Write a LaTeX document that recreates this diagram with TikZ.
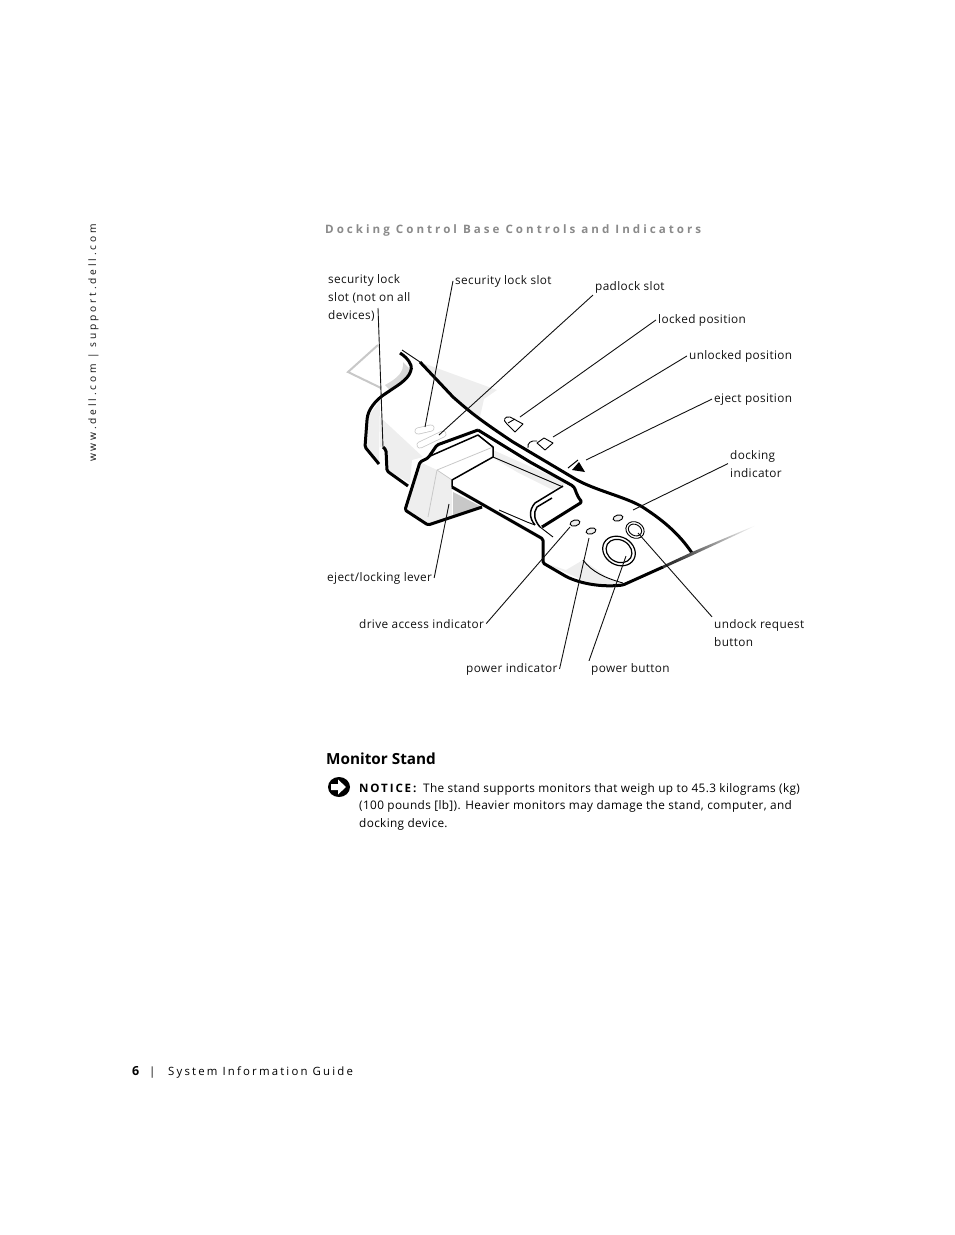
\documentclass[tikz,border=0pt]{standalone}
\usepackage{fontspec}
\usepackage{xcolor}
\setmainfont{Open Sans}
\usetikzlibrary{arrows.meta,positioning,calc}
\definecolor{dockInk}{HTML}{111111}
\definecolor{dockShade}{HTML}{EEEEEE}
\definecolor{dockMid}{HTML}{C8C8C8}
\definecolor{dockHead}{HTML}{8A8A8A}
\newcommand{\bodyfont}{\fontsize{11.8}{18}\selectfont\addfontfeatures{LetterSpace=3}}
\begin{document}
\begin{tikzpicture}[
  x=1pt,y=-1pt,
  lbl/.style={font=\bodyfont,text=dockInk,inner sep=2pt,anchor=base west,align=left},
  lead/.style={draw=dockInk,line width=0.9pt},
  heavy/.style={draw=black,line width=3pt,line join=round,rounded corners=1.5pt},
  medium/.style={draw=black,line width=1.5pt,line join=round},
  thin line/.style={draw=black,line width=0.9pt},
  soft/.style={fill=dockShade,draw=none},
  spaced/.style={inner sep=0pt,anchor=base west}
]
\useasboundingbox (0,0) rectangle (954,1235);
% page text
\node[spaced,rotate=90,font=\fontsize{10.2}{12}\selectfont\addfontfeatures{LetterSpace=28},text=dockInk] (sideText) at (96,462) {www.dell.com | support.dell.com};
\node[spaced,font=\fontsize{11.6}{14}\selectfont\bfseries\addfontfeatures{LetterSpace=26},text=dockHead] (headText) at (325,233) {Docking Control Base Controls and Indicators};
\node[spaced,font=\fontsize{12.5}{14}\selectfont\bfseries] (pageNum) at (132,1075) {6};
\node[spaced,font=\fontsize{11.4}{14}\selectfont] (pageBar) at (149,1075) {|};
\node[spaced,font=\fontsize{11.4}{14}\selectfont\addfontfeatures{LetterSpace=19}] (pageName) at (168,1075) {System Information Guide};
\node[font=\fontsize{15.3}{18}\selectfont\bfseries,inner sep=0pt,anchor=base west] (standHead) at (326,764) {Monitor Stand};
\node[font=\fontsize{11.6}{14}\selectfont\bfseries\addfontfeatures{LetterSpace=16},inner sep=0pt,anchor=base west] (noticeHead) at (359,792) {NOTICE:};
\node[font=\bodyfont,inner sep=0pt,anchor=base west] (noticeA) at (423,792) {The stand supports monitors that weigh up to 45.3 kilograms (kg)};
\node[font=\bodyfont,inner sep=0pt,anchor=base west] (noticeB) at (359,809) {(100 pounds [lb]). Heavier monitors may damage the stand, computer, and};
\node[font=\bodyfont,inner sep=0pt,anchor=base west] (noticeC) at (359,827) {docking device.};
\fill[black] (339,787) ellipse [x radius=11,y radius=10];
\fill[white] (331,784) -- (338,784) -- (338,779.5) -- (346,787) -- (338,794.5) -- (338,790) -- (331,790) -- cycle;
% shaded areas
\fill[soft] (420,362) -- (497,390) -- (484,399) -- (480,417) -- (453,397) -- cycle;
\fill[soft] (380,417) -- (423,457) -- (412,460) -- (410,483) -- (387,470) -- (385,447) -- (380,447) -- cycle;
\fill[soft] (368,417) -- (380,400) -- (379,463) -- (367,447) -- cycle;
\fill[soft] (420,462) -- (405,510) -- (428,525) -- (452,517) -- (452,480) -- (437,470) -- cycle;
\fill[soft] (493,450) -- (567,483) -- (553,490) -- (517,472) -- (493,458) -- cycle;
\fill[soft] (545,563) -- (593,585) -- (623,585) -- (607,577) -- (583,560) -- (566,570) -- cycle;
\fill[dockMid] (453,492) -- (482,507) -- (453,515) -- cycle;
\fill[dockMid!70] (385,385) .. controls (398,378) and (404,372) .. (403,362) -- (411,370) .. controls (405,382) and (398,386) .. (390,390) -- cycle;
\draw[dockMid,line width=2pt] (378,345) -- (348,372) -- (381,388);
\draw[dockMid,line width=0.8pt] (437,470) -- (493,447);
\draw[dockMid,line width=0.8pt] (437,470) -- (452,480);
\draw[dockMid,line width=0.8pt] (437,470) -- (428,517);
% lock slots
\draw[dockMid,line width=7pt,line cap=round] (418,431) -- (431,428);
\draw[white,line width=5.4pt,line cap=round] (418,431) -- (431,428);
\draw[dockMid,line width=7pt,line cap=round] (420,445) -- (443,434);
\draw[white,line width=5.4pt,line cap=round] (420,445) -- (443,434);
% base outline
\draw[heavy] (400,353) .. controls (408,358) and (412,365) .. (411,370) .. controls (408,380) and (395,387) .. (388,392) .. controls (375,400) and (368,410) .. (367,420) -- (365,447) -- (379,464);
\draw[heavy] (383,447) -- (386,450) -- (387,471) -- (408,486);
\draw[thin line] (402,350) -- (420,362);
\draw[heavy] (420,362) -- (453,397) .. controls (470,412) and (480,420) .. (513,442) -- (577,480) .. controls (600,492) and (630,498) .. (647,510) .. controls (668,524) and (682,538) .. (692,553);
\draw[heavy] (478,430) -- (530,462) -- (573,486) .. controls (576,490) and (576,495) .. (582,502) -- (542,527);
\draw[medium] (563,486) -- (535,503) .. controls (529,510) and (529,518) .. (535,525);
\draw[medium] (552,498) -- (537,507) .. controls (533,513) and (534,520) .. (540,527);
\draw[thin line] (540,527) -- (553,537);
\draw[thin line] (493,457) -- (563,487);
\draw[thin line] (499,510) -- (527,522) -- (535,525);
\draw[heavy] (452,487) -- (543,539) -- (543,563) -- (567,577) .. controls (585,585) and (605,587) .. (623,585) -- (663,567);
\draw[thin line] (583,560) .. controls (592,572) and (605,578) .. (623,583);
\shade[left color=black!80,right color=white,shading angle=113] (663,565.5) -- (692,552) -- (768,520) -- (692,555.5) -- (663,568.5) -- cycle;
% lever
\draw[heavy] (478,430) -- (437,445) -- (428,458) -- (420,462) -- (405,510) -- (428,525) -- (482,507);
\draw[medium] (428,457) -- (478,435) -- (493,447) -- (493,457) -- (452,480) -- (452,487);
% indicators and buttons
\draw[thin line,fill=dockShade,rotate around={15:(575,523)}] (575,523) ellipse [x radius=5,y radius=3];
\draw[thin line,fill=dockShade,rotate around={15:(591,531)}] (591,531) ellipse [x radius=5,y radius=3];
\draw[thin line,fill=dockShade,rotate around={15:(618,518)}] (618,518) ellipse [x radius=5,y radius=3];
\draw[line width=1.2pt,rotate around={-30:(619,551)}] (619,551) ellipse [x radius=17,y radius=14];
\draw[line width=1.2pt,rotate around={-30:(619,551)}] (619,551) ellipse [x radius=13.5,y radius=11];
\draw[line width=0.9pt,rotate around={-30:(635,530)}] (635,530) ellipse [x radius=9.5,y radius=8];
\draw[line width=0.9pt,rotate around={-30:(635,530)}] (635,530) ellipse [x radius=7,y radius=5.5];
\draw[thin line,line join=round] (507,424) .. controls (502,420) and (505,416) .. (510,417) -- (523,424) -- (515,432) -- cycle;
\draw[thin line] (508,423) -- (515,419);
\draw[thin line,line join=round] (537,443) -- (544,438) -- (553,443) -- (545,450) -- cycle;
\draw[thin line] (528,448) .. controls (527,443) and (531,440) .. (537,441);
\fill[black] (572,470) -- (585,472) -- (579,462) -- cycle;
\draw[line width=1pt] (568,468) -- (578,460);
% labels
\node[lbl] (lblCable) at (326,319) {security lock\\slot (not on all\\devices)};
\node[lbl] (lblSlot) at (453,284) {security lock slot};
\node[lbl] (lblPad) at (593,290) {padlock slot};
\node[lbl] (lblLocked) at (656,323) {locked position};
\node[lbl] (lblUnlocked) at (687,359) {unlocked position};
\node[lbl] (lblEject) at (712,402) {eject position};
\node[lbl] (lblDock) at (728,477) {docking\\indicator};
\node[lbl] (lblUndock) at (712,646) {undock request\\button};
\node[lbl] (lblPower) at (589,672) {power button};
\node[lbl] (lblPowerInd) at (464,672) {power indicator};
\node[lbl] (lblDrive) at (357,628) {drive access indicator};
\node[lbl] (lblLever) at (325,581) {eject/locking lever};
% leader ends
\coordinate (ptCableTop) at (378,308);
\coordinate (ptCable) at (383,447);
\coordinate (ptSlot) at (425,427);
\coordinate (ptPad) at (439,435);
\coordinate (ptLocked) at (520,417);
\coordinate (ptUnlocked) at (553,437);
\coordinate (ptEject) at (586,460);
\coordinate (ptDock) at (633,510);
\coordinate (ptUndock) at (638,533);
\coordinate (ptPower) at (626,556);
\coordinate (ptPowerInd) at (589,538);
\coordinate (ptDrive) at (570,527);
\coordinate (ptLever) at (449,504);
\draw[lead] (ptCableTop) -- (ptCable);
\draw[lead] (lblSlot.west) -- (ptSlot);
\draw[lead] (lblPad.south west) -- (ptPad);
\draw[lead] (lblLocked.west) -- (ptLocked);
\draw[lead] (lblUnlocked.west) -- (ptUnlocked);
\draw[lead] (lblEject.west) -- (ptEject);
\draw[lead] (lblDock.west) -- (ptDock);
\draw[lead] (lblUndock.north west) -- (ptUndock);
\draw[lead] (lblPower.north west) -- (ptPower);
\draw[lead] (lblPowerInd.east) -- (ptPowerInd);
\draw[lead] (lblDrive.east) -- (ptDrive);
\draw[lead] (lblLever.east) -- (ptLever);
\end{tikzpicture}
\end{document}
